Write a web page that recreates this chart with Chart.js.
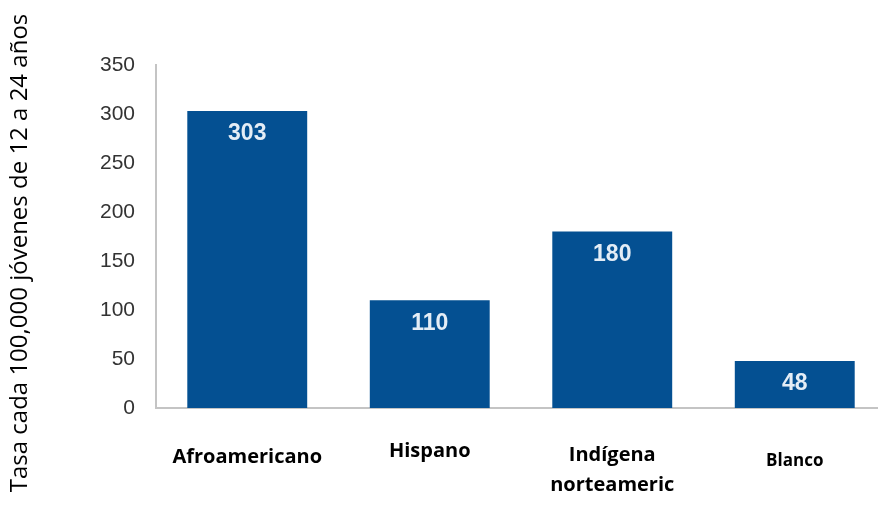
<!DOCTYPE html>
<html>
<head>
<meta charset="utf-8">
<script src="https://cdn.jsdelivr.net/npm/chart.js@4.4.1/dist/chart.umd.min.js"></script>
<style>
  html, body { margin: 0; padding: 0; background: #fff; overflow: hidden; }
  #wrap { width: 890px; height: 517px; position: relative; }
</style>
</head>
<body>
<div id="wrap"><canvas id="chart"></canvas></div>
<script>
// data
const categories = ['Afroamericano', 'Hispano', ['Indígena', 'norteameric'], 'Blanco'];
const tasas = [303, 110, 180, 48];
const yMin = 0;
const yMax = 350;
const yStep = 50;
const yTitle = 'Tasa cada 100,000 jóvenes de 12 a 24 años';

const barColor = '#045092';

// numbers inside the bars, near their tops
const valueLabels = {
  id: 'valueLabels',
  afterDatasetsDraw(chart) {
    const { ctx } = chart;
    const meta = chart.getDatasetMeta(0);
    ctx.save();
    ctx.font = 'bold 23px "Liberation Sans", Arial, sans-serif';
    ctx.fillStyle = '#e4edf6';
    ctx.textAlign = 'center';
    ctx.textBaseline = 'middle';
    meta.data.forEach((bar, i) => {
      ctx.fillText(String(tasas[i]), bar.x, bar.y + 23);
    });
    ctx.restore();
  }
};

// rotated y title, sits at the far left of the canvas
const axisTitle = {
  id: 'axisTitle',
  afterDraw(chart) {
    const { ctx } = chart;
    ctx.save();
    ctx.translate(20, 253);
    ctx.rotate(-Math.PI / 2);
    ctx.font = '24px "Open Sans", sans-serif';
    ctx.fillStyle = '#000';
    ctx.textAlign = 'center';
    ctx.textBaseline = 'middle';
    ctx.fillText(yTitle, 0, 0);
    ctx.restore();
  }
};

// labels don't all sit on the same line in the original
const xLineHeights = [1.7, 1.1, 1.5, 2.5];

new Chart(document.getElementById('chart'), {
  type: 'bar',
  data: {
    labels: categories,
    datasets: [{
      data: tasas,
      backgroundColor: barColor,
      borderWidth: 0,
      categoryPercentage: 1,
      barPercentage: 0.657
    }]
  },
  options: {
    responsive: true,
    maintainAspectRatio: false,
    animation: false,
    layout: { padding: { top: 65, right: 4, left: 0, bottom: 0 } },
    plugins: {
      legend: { display: false },
      tooltip: { enabled: false }
    },
    scales: {
      x: {
        afterFit(scale) { scale.height = 109; },
        grid: { display: false, drawTicks: false },
        border: { display: true, color: '#c4c4c4', width: 2 },
        ticks: {
          autoSkip: false,
          maxRotation: 0,
          padding: 32,
          color: '#000',
          font: (c) => ({
            family: '"Open Sans", sans-serif',
            size: c.index === 3 ? 17 : 20,
            weight: 'bold',
            lineHeight: xLineHeights[c.index]
          })
        }
      },
      y: {
        min: yMin,
        max: yMax,
        afterFit(scale) { scale.width = 156; },
        grid: { display: false, drawTicks: false },
        border: { display: true, color: '#c4c4c4', width: 2 },
        ticks: {
          stepSize: yStep,
          padding: 21,
          color: '#333',
          font: { family: '"Liberation Sans", Arial, sans-serif', size: 21 }
        }
      }
    }
  },
  plugins: [valueLabels, axisTitle]
});
</script>
</body>
</html>
